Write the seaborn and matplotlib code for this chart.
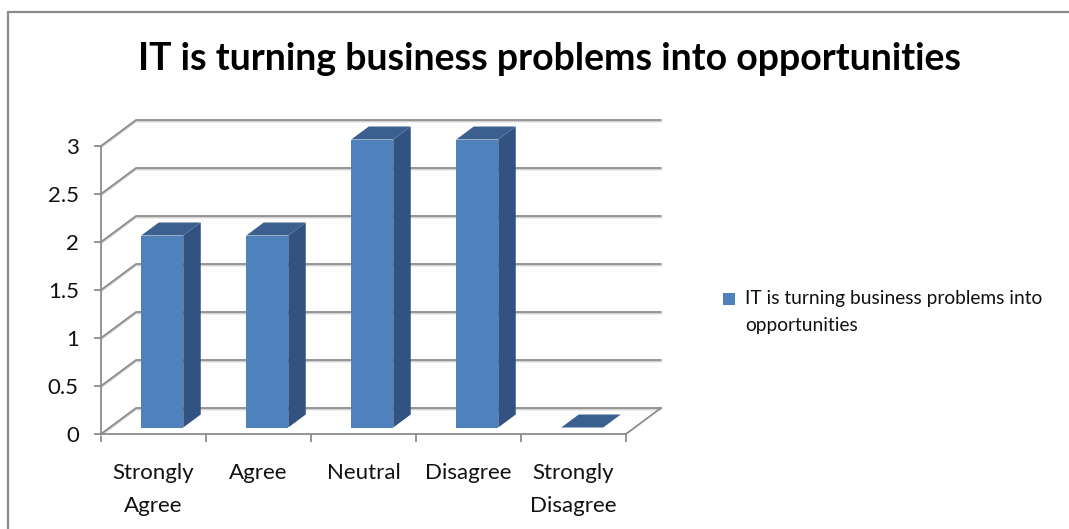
import textwrap

import matplotlib
matplotlib.use("Agg")
import matplotlib.pyplot as plt
import matplotlib.patheffects as pe
import pandas as pd
import seaborn as sns
from matplotlib.lines import Line2D
from matplotlib.patches import Polygon

# ---- data -------------------------------------------------------------
TITLE = "IT is turning business problems into opportunities"
SERIES = "IT is turning business problems into opportunities"
categories = ["Strongly\nAgree", "Agree", "Neutral", "Disagree", "Strongly\nDisagree"]
values = [2, 2, 3, 3, 0]
y_ticks = [0, 0.5, 1, 1.5, 2, 2.5, 3]
y_tick_labels = ["0", "0.5", "1", "1.5", "2", "2.5", "3"]

# ---- style ------------------------------------------------------------
FRONT = "#4F81BD"
SIDE = "#32537F"
TOP = "#3B6090"
GRID = "#8C8C8C"
FRAME = "#8A8A8A"
TEXT = "#111111"

W, H = 1069, 529
sns.set_theme(style="white")
plt.rcParams["font.family"] = ["Lato", "DejaVu Sans"]

fig = plt.figure(figsize=(W / 100, H / 100), dpi=100)
fig.patch.set_facecolor("white")

# front plane of the 3-D box, in pixels
PX0, PX1 = 101, 626
PY0, PY1 = 434, 146
ax = fig.add_axes([PX0 / W, 1 - PY0 / H, (PX1 - PX0) / W, (PY0 - PY1) / H])
ax.set_facecolor("none")

df = pd.DataFrame({"answer": categories, "count": values})
sns.barplot(data=df, x="answer", y="count", color=FRONT, width=0.4,
            saturation=1, linewidth=0, label=SERIES, zorder=3, ax=ax)
ax.set_xlim(-0.5, len(categories) - 0.5)
ax.set_ylim(0, 3)
ax.set_xlabel("")
ax.set_ylabel("")
if ax.get_legend() is not None:
    ax.get_legend().remove()

# depth of the box in data units (35 px across, 26 px up)
px_per_cat = (PX1 - PX0) / len(categories)
px_per_val = (PY0 - PY1) / 3
DX = 35 / px_per_cat
DY = 26 / px_per_val

shadow = [pe.SimpleLineShadow(offset=(0, -1.1), shadow_color="#D4D4D4", alpha=1),
          pe.Normal()]

# side wall and back wall gridlines
x_left, x_right = ax.get_xlim()
for v in y_ticks:
    ax.plot([x_left, x_left + DX, x_right + DX], [v, v + DY, v + DY],
            color=GRID, lw=1.3, clip_on=False, zorder=1, path_effects=shadow,
            solid_joinstyle="miter")
# right edge of the floor
ax.plot([x_right, x_right + DX], [0, DY], color=GRID, lw=1.3,
        clip_on=False, zorder=1)

# turn each flat bar into a box sitting in the middle of the depth
for p in list(ax.patches):
    x0 = p.get_x() + 0.25 * DX
    b = 0.25 * DY
    w = p.get_width()
    t = b + p.get_height()
    x1 = x0 + w
    p.set_xy((x0, b))
    p.set_clip_on(False)
    ax.add_patch(Polygon([(x1, b), (x1 + 0.5 * DX, b + 0.5 * DY),
                          (x1 + 0.5 * DX, t + 0.5 * DY), (x1, t)],
                         closed=True, fc=SIDE, ec="none", zorder=3, clip_on=False))
    ax.add_patch(Polygon([(x0, t), (x0 + 0.5 * DX, t + 0.5 * DY),
                          (x1 + 0.5 * DX, t + 0.5 * DY), (x1, t)],
                         closed=True, fc=TOP, ec="none", zorder=3, clip_on=False))

# axes lines and ticks
for side in ("top", "right"):
    ax.spines[side].set_visible(False)
for side in ("left", "bottom"):
    ax.spines[side].set_visible(True)
    ax.spines[side].set_color(GRID)
    ax.spines[side].set_linewidth(1.3)
    ax.spines[side].set_zorder(2)

ax.set_yticks(y_ticks, y_tick_labels)
ax.tick_params(axis="y", left=True, length=5, width=1.3, color=GRID,
               pad=11, labelsize=16, labelcolor=TEXT)
ax.set_xticks(range(len(categories)), categories)
ax.set_xticks([i - 0.5 for i in range(len(categories) + 1)], minor=True)
ax.tick_params(axis="x", which="major", bottom=True, length=0, pad=21,
               labelsize=16, labelcolor=TEXT)
ax.tick_params(axis="x", which="minor", bottom=True, length=6, width=1.3,
               color=GRID)
for lbl in ax.get_xticklabels():
    lbl.set_linespacing(1.8)

# legend
handles, _ = ax.get_legend_handles_labels()
leg = fig.legend(handles[:1], [textwrap.fill(SERIES, 36)], loc="upper left",
                 bbox_to_anchor=(723 / W, 1 - 290 / H), frameon=False,
                 fontsize=13.8, handlelength=0.6, handleheight=0.6,
                 handletextpad=0.55, borderpad=0, borderaxespad=0)
for txt in leg.get_texts():
    txt.set_linespacing(1.7)
    txt.set_color(TEXT)
for hd in leg.legend_handles:
    hd.set_y(hd.get_y() + 9.4)

# title
fig.text(550 / W, 1 - 59 / H, TITLE, ha="center", va="center",
         fontsize=27, fontweight="bold", color="#000000")

# chart frame (left and top edges)
fig.add_artist(Line2D([8 / W, 8 / W], [0, 1 - 12 / H], color=FRAME, lw=1.6))
fig.add_artist(Line2D([8 / W, 1], [1 - 12 / H, 1 - 12 / H], color=FRAME, lw=1.6))

fig.savefig("out.png", dpi=100, facecolor="white")
